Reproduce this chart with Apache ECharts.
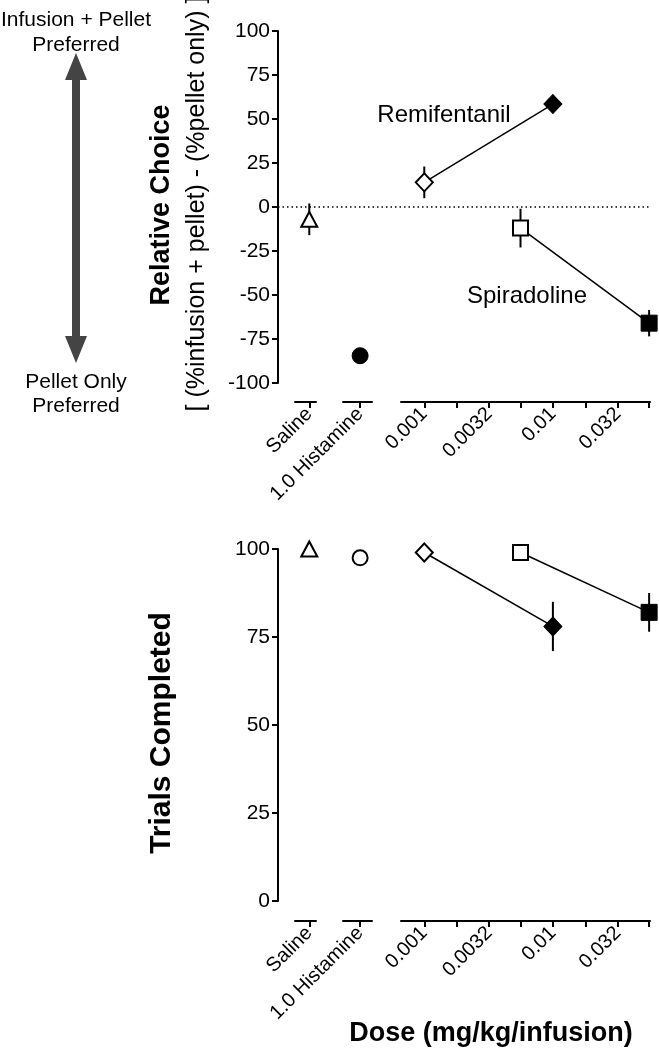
<!DOCTYPE html>
<html>
<head>
<meta charset="utf-8">
<script src="https://cdn.jsdelivr.net/npm/echarts@6/dist/echarts.min.js"></script>
<style>
html,body{margin:0;padding:0;background:#fff;}
#chart{width:659px;height:1050px;}
</style>
</head>
<body>
<div id="chart"></div>
<script>
// ---------------- data ----------------
const choiceTicks = [-100, -75, -50, -25, 0, 25, 50, 75, 100];
const trialTicks = [0, 25, 50, 75, 100];
const doseTicks = [0.001, 0.0018, 0.0032, 0.0056, 0.01, 0.018, 0.032, 0.056];
const doseTickLabels = ['0.001', '0.0032', '0.01', '0.032'];
const controlLabels = ['Saline', '1.0 Histamine'];

// Relative choice panel (mean, SEM)
const salineChoice = -7;      const salineChoiceErr = 9;
const histamineChoice = -84.5; const histamineChoiceErr = 0;
const remiDoses = [0.001, 0.01];
const remiChoice = [14, 58.5];  const remiChoiceErr = [9, 2];
const spiraDoses = [0.0056, 0.056];
const spiraChoice = [-12, -66]; const spiraChoiceErr = [11, 7.5];
const zeroLine = 0;

// Trials completed panel (mean, SEM)
const salineTrials = 100;     const salineTrialsErr = 0;
const histamineTrials = 97.5; const histamineTrialsErr = 0;
const remiTrials = [99, 78];  const remiTrialsErr = [1, 7];
const spiraTrials = [99, 82]; const spiraTrialsErr = [1, 5.5];

// ---------------- helpers ----------------
const FONT = 'Liberation Sans, Arial, Helvetica, sans-serif';
const lg = v => Math.log10(v);
const openStyle = {color: '#fff', borderColor: '#000', borderWidth: 2, opacity: 1};
const fillStyle = {color: '#000', borderColor: '#000', borderWidth: 1, opacity: 1};

const panels = [
  {top: 31, height: 352, min: -100, max: 100, interval: 25, axisOffset: 19},
  {top: 549, height: 352, min: 0, max: 100, interval: 25, axisOffset: 20}
];

const grids = [], xAxes = [], yAxes = [];
panels.forEach((p, k) => {
  const segs = [
    {left: 278, width: 372},   // main (y axis)
    {left: 295, width: 21},    // saline
    {left: 343, width: 29},    // histamine
    {left: 401, width: 249}    // dose
  ];
  segs.forEach((s, i) => {
    grids.push({left: s.left, width: s.width, top: p.top, height: p.height, containLabel: false});
    const gi = grids.length - 1;
    yAxes.push({
      gridIndex: gi, type: 'value', min: p.min, max: p.max, interval: p.interval,
      show: i === 0,
      axisLine: {show: true, lineStyle: {color: '#000', width: 2}},
      axisTick: {show: true, length: 6, lineStyle: {color: '#000', width: 2}},
      axisLabel: {color: '#000', fontFamily: FONT, fontSize: 21, margin: 8},
      splitLine: {show: false}
    });
    const base = {
      gridIndex: gi, type: 'value', position: 'bottom',
      offset: p.axisOffset,
      axisLine: {show: true, onZero: false, lineStyle: {color: '#000', width: 2}},
      axisTick: {show: true, length: 6, lineStyle: {color: '#000', width: 2}},
      splitLine: {show: false}
    };
    const lab = {color: '#000', fontFamily: FONT, fontSize: 20, rotate: 45, margin: 9};
    if (i === 0) {
      xAxes.push({gridIndex: gi, type: 'value', min: 0, max: 1, show: false});
    } else if (i === 1) {
      xAxes.push(Object.assign({}, base, {min: -0.68, max: 0.32,
        axisTick: Object.assign({}, base.axisTick, {customValues: [0]}),
        axisLabel: Object.assign({}, lab, {customValues: [0], formatter: () => controlLabels[0]})}));
    } else if (i === 2) {
      xAxes.push(Object.assign({}, base, {min: -0.59, max: 0.41,
        axisTick: Object.assign({}, base.axisTick, {customValues: [0]}),
        axisLabel: Object.assign({}, lab, {customValues: [0], formatter: () => controlLabels[1]})}));
    } else {
      const labVals = doseTickLabels.map(s => lg(parseFloat(s)));
      xAxes.push(Object.assign({}, base, {min: -3.181, max: -1.245,
        axisTick: Object.assign({}, base.axisTick, {customValues: doseTicks.map(lg)}),
        axisLabel: Object.assign({}, lab, {customValues: labVals, formatter: v => {
          let best = 0;
          labVals.forEach((lv, j) => { if (Math.abs(lv - v) < Math.abs(labVals[best] - v)) best = j; });
          return doseTickLabels[best];
        }})}));
    }
  });
});

function errSeries(axisIdx, pts) {
  return {
    type: 'custom', xAxisIndex: axisIdx, yAxisIndex: axisIdx, silent: true, z: 1,
    data: pts,
    renderItem: (params, api) => {
      const x = api.value(0), y = api.value(1), e = api.value(2);
      const a = api.coord([x, y + e]), b = api.coord([x, y - e]);
      return {type: 'line', shape: {x1: a[0], y1: a[1], x2: b[0], y2: b[1]},
        style: {stroke: '#000', lineWidth: 2}};
    }
  };
}
function pt(x, y, symbol, size, style) {
  return {value: [x, y], symbol: symbol, symbolSize: size, itemStyle: style};
}
function drugLine(axisIdx, pts) {
  return {type: 'line', xAxisIndex: axisIdx, yAxisIndex: axisIdx, z: 3,
    data: pts, lineStyle: {color: '#000', width: 1.5}, symbolKeepAspect: true,
    emphasis: {disabled: true}, animation: false};
}
function single(axisIdx, item) {
  return {type: 'scatter', xAxisIndex: axisIdx, yAxisIndex: axisIdx, z: 3, data: [item],
    itemStyle: {opacity: 1}, emphasis: {disabled: true}, animation: false};
}

const series = [
  // zero reference line (top panel)
  {type: 'line', xAxisIndex: 0, yAxisIndex: 0, symbol: 'none', data: [[0, zeroLine], [1, zeroLine]],
   lineStyle: {color: '#000', width: 1.5, type: [1.5, 3]}, z: 0, animation: false},
  // top panel
  errSeries(1, [[0, salineChoice, salineChoiceErr]]),
  errSeries(2, [[0, histamineChoice, histamineChoiceErr]]),
  errSeries(3, remiDoses.map((d, i) => [lg(d), remiChoice[i], remiChoiceErr[i]])
    .concat(spiraDoses.map((d, i) => [lg(d), spiraChoice[i], spiraChoiceErr[i]]))),
  single(1, pt(0, salineChoice, 'triangle', [16, 15], openStyle)),
  single(2, pt(0, histamineChoice, 'circle', 16, fillStyle)),
  drugLine(3, [pt(lg(remiDoses[0]), remiChoice[0], 'diamond', [17, 18], openStyle),
               pt(lg(remiDoses[1]), remiChoice[1], 'diamond', [18, 19], fillStyle)]),
  drugLine(3, [pt(lg(spiraDoses[0]), spiraChoice[0], 'rect', 15, openStyle),
               pt(lg(spiraDoses[1]), spiraChoice[1], 'rect', 16, fillStyle)]),
  // bottom panel
  errSeries(5, [[0, salineTrials, salineTrialsErr]]),
  errSeries(6, [[0, histamineTrials, histamineTrialsErr]]),
  errSeries(7, remiDoses.map((d, i) => [lg(d), remiTrials[i], remiTrialsErr[i]])
    .concat(spiraDoses.map((d, i) => [lg(d), spiraTrials[i], spiraTrialsErr[i]]))),
  single(5, pt(0, salineTrials, 'triangle', [16, 15], openStyle)),
  single(6, pt(0, histamineTrials, 'circle', 15, openStyle)),
  drugLine(7, [pt(lg(remiDoses[0]), remiTrials[0], 'diamond', [17, 18], openStyle),
               pt(lg(remiDoses[1]), remiTrials[1], 'diamond', [18, 19], fillStyle)]),
  drugLine(7, [pt(lg(spiraDoses[0]), spiraTrials[0], 'rect', 15, openStyle),
               pt(lg(spiraDoses[1]), spiraTrials[1], 'rect', 16, fillStyle)])
];

const txt = (x, y, text, size, weight, rot) => ({
  type: 'text', x: x, y: y, rotation: rot || 0,
  style: {text: text, fill: '#000', font: (weight || 'normal') + ' ' + size + 'px ' + FONT,
    textAlign: 'center', textVerticalAlign: 'middle'}
});

const graphic = [
  txt(76, 20, 'Infusion + Pellet', 21),
  txt(76, 45, 'Preferred', 21),
  txt(76, 382, 'Pellet Only', 21),
  txt(76, 406, 'Preferred', 21),
  {type: 'rect', shape: {x: 72, y: 76, width: 8, height: 264}, style: {fill: '#444'}},
  {type: 'polygon', shape: {points: [[76, 53], [65, 80], [87, 80]]}, style: {fill: '#444'}},
  {type: 'polygon', shape: {points: [[76, 363], [65, 336], [87, 336]]}, style: {fill: '#444'}},
  txt(162, 205, 'Relative Choice', 27, 'bold', Math.PI / 2),
  txt(197, 204, '[ (%infusion + pellet) - (%pellet only) ]', 25, 'normal', Math.PI / 2),
  txt(162, 733, 'Trials Completed', 30, 'bold', Math.PI / 2),
  txt(491, 1034, 'Dose (mg/kg/infusion)', 27, 'bold'),
  txt(444, 115, 'Remifentanil', 24),
  txt(527, 296, 'Spiradoline', 24)
];

const chart = echarts.init(document.getElementById('chart'), null, {renderer: 'canvas'});
chart.setOption({
  animation: false,
  backgroundColor: '#fff',
  textStyle: {fontFamily: FONT},
  grid: grids, xAxis: xAxes, yAxis: yAxes, series: series, graphic: graphic
});
</script>
</body>
</html>
